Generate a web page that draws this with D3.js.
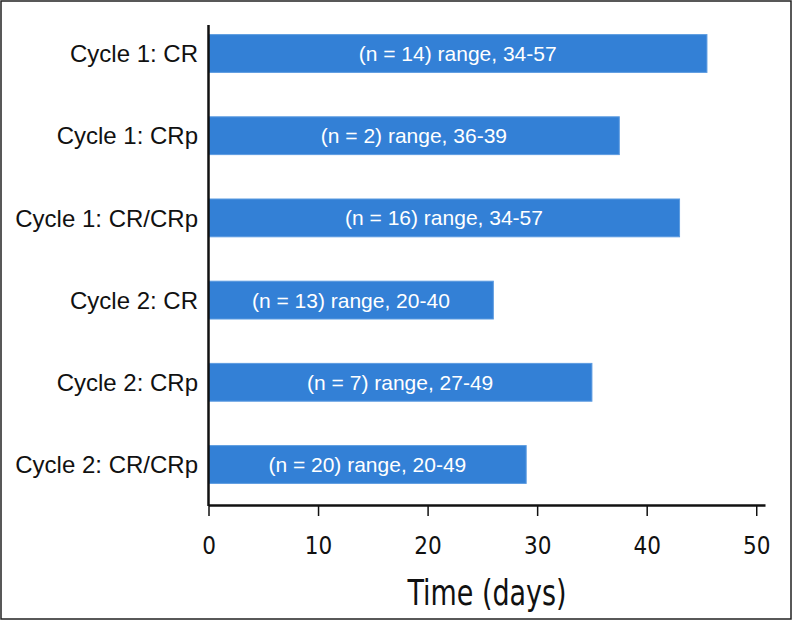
<!DOCTYPE html>
<html><head><meta charset="utf-8">
<script src="https://cdn.jsdelivr.net/npm/d3@7"></script>
<style>
body{margin:0;background:#fff;}
svg{display:block;}
</style></head>
<body>
<svg id="chart" width="794" height="622"></svg>
<script>
const categories = ["Cycle 1: CR","Cycle 1: CRp","Cycle 1: CR/CRp","Cycle 2: CR","Cycle 2: CRp","Cycle 2: CR/CRp"];
const values = [45.5, 37.5, 43, 26, 35, 29];
const barLabels = ["(n = 14) range, 34-57","(n = 2) range, 36-39","(n = 16) range, 34-57","(n = 13) range, 20-40","(n = 7) range, 27-49","(n = 20) range, 20-49"];
const xTicks = [0,10,20,30,40,50];
const xTitle = "Time (days)";

const svg = d3.select("#chart");
svg.append("rect").attr("x",1).attr("y",1).attr("width",790).attr("height",618)
  .attr("fill","#fff").attr("stroke","#222").attr("stroke-width",1.5);

const x = d3.scaleLinear().domain([0,50.8]).range([208.5,765]);
const y = d3.scaleBand().domain(categories).range([12.4,505.6]).paddingInner(0.54).paddingOuter(0.27);

const data = categories.map((c,i)=>({c, v:values[i], l:barLabels[i]}));

svg.selectAll("rect.bar").data(data).enter().append("rect").attr("class","bar")
  .attr("x", x(0)).attr("y", d=>y(d.c))
  .attr("width", d=>x(d.v)-x(0)).attr("height", y.bandwidth())
  .attr("fill","#3380d6").attr("stroke","#5c9be0").attr("stroke-width",1);

svg.selectAll("text.bl").data(data).enter().append("text").attr("class","bl")
  .attr("x", d=>(x(0)+x(d.v))/2).attr("y", d=>y(d.c)+y.bandwidth()/2)
  .attr("dy","0.36em").attr("text-anchor","middle")
  .attr("fill","#fff").style("font-family","'Liberation Sans', Arial, sans-serif").style("font-size","21px")
  .text(d=>d.l);

svg.selectAll("text.cat").data(data).enter().append("text").attr("class","cat")
  .attr("x",198).attr("y", d=>y(d.c)+y.bandwidth()/2).attr("dy","0.36em")
  .attr("text-anchor","end").attr("fill","#111")
  .style("font-family","'Liberation Sans', Arial, sans-serif").style("font-size","24px")
  .text(d=>d.c);

// y axis line
svg.append("line").attr("x1",x(0)).attr("x2",x(0)).attr("y1",25).attr("y2",506)
  .attr("stroke","#111").attr("stroke-width",2.5);

const xAxis = d3.axisBottom(x).tickValues(xTicks).tickSize(11).tickSizeOuter(0).tickPadding(21);
const gx = svg.append("g").attr("transform","translate(0,505)").call(xAxis);
gx.select(".domain").attr("stroke","#111").attr("stroke-width",2.5);
gx.selectAll(".tick line").attr("stroke","#111").attr("stroke-width",1.5);
gx.selectAll(".tick text").attr("fill","#111")
  .style("font-family","'DejaVu Sans Condensed','DejaVu Sans',sans-serif").style("font-size","24px");

svg.append("text").attr("x",487).attr("y",605).attr("text-anchor","middle").attr("fill","#111")
  .attr("textLength",159).attr("lengthAdjust","spacingAndGlyphs")
  .style("font-family","'DejaVu Sans Condensed','DejaVu Sans',sans-serif").style("font-size","36px")
  .text(xTitle);
</script>
</body></html>
